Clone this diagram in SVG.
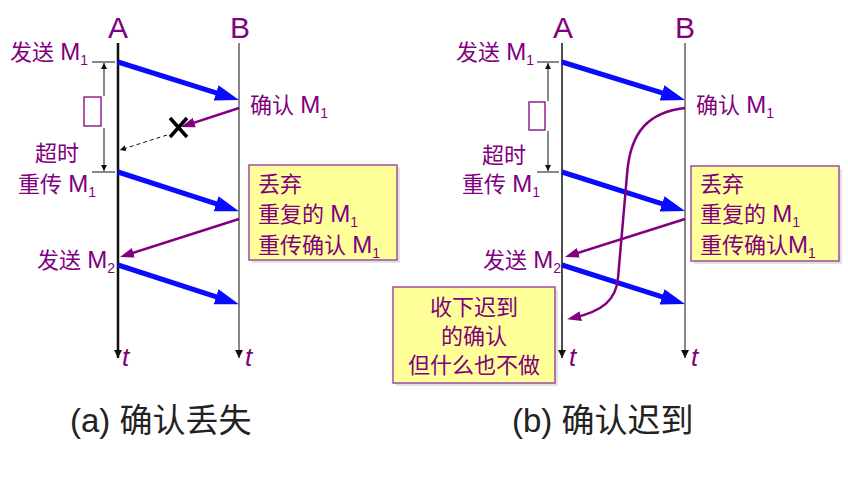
<svg xmlns="http://www.w3.org/2000/svg" width="848" height="486" viewBox="0 0 848 486">
<defs>
<style>
.lbl{font-family:"Liberation Sans","Noto Sans CJK SC",sans-serif;font-size:22px;fill:#800080}
.m{font-size:24px}
.s{font-size:14px}
.big{font-family:"Liberation Sans","Noto Sans CJK SC",sans-serif;font-size:30px;fill:#800080;text-anchor:middle}
.t{font-family:"Liberation Sans",sans-serif;font-size:26px;font-style:italic;fill:#800080}
.cap{font-family:"Liberation Sans","Noto Sans CJK SC",sans-serif;font-size:33px;fill:#222}
.blue{stroke:#0a0aff;stroke-width:5;fill:none;marker-end:url(#hb)}
.pur{stroke:#800080;stroke-width:2.5;fill:none;marker-end:url(#hp)}
.tl{stroke:#111;fill:none;marker-end:url(#ht)}
.thin{stroke:#111;stroke-width:1;fill:none}
.box{fill:#ffff99;stroke:#9b4f9b;stroke-width:1.5}
.shadow{fill:#c8c8c8;opacity:0.5}
.tofu{fill:none;stroke:#800080;stroke-width:1.3}
</style>
<marker id="hb" viewBox="0 0 24 16" refX="6" refY="8" markerWidth="24" markerHeight="16" markerUnits="userSpaceOnUse" orient="auto"><path d="M0,0 L24,8 L0,16 Z" fill="#0a0aff"/></marker>
<marker id="hp" viewBox="0 0 14 10" refX="8" refY="5" markerWidth="14" markerHeight="10" markerUnits="userSpaceOnUse" orient="auto"><path d="M0,0 L14,5 L0,10 Z" fill="#800080"/></marker>
<marker id="ht" viewBox="0 0 8 8" refX="8" refY="4" markerWidth="8" markerHeight="8" markerUnits="userSpaceOnUse" orient="auto"><path d="M0,0 L8,4 L0,8 Z" fill="#111"/></marker>
<marker id="hs" viewBox="0 0 6 6" refX="6" refY="3" markerWidth="6" markerHeight="6" markerUnits="userSpaceOnUse" orient="auto"><path d="M0,0 L6,3 L0,6 Z" fill="#111"/></marker>
</defs>
<rect width="848" height="486" fill="#fff"/>

<!-- Panel (a) -->
<g id="a-timelineA"><text class="big" x="118" y="38">A</text><path class="tl" d="M118,43 V358" stroke-width="2.5"/><text class="t" x="122" y="366">t</text></g>
<g id="a-timelineB"><text class="big" x="240" y="38">B</text><path class="tl" d="M239,43 V358" stroke-width="1"/><text class="t" x="245" y="366">t</text></g>
<g id="a-send1"><text class="lbl" x="10" y="60">发送 <tspan class="m">M</tspan><tspan class="s" dy="5">1</tspan></text></g>
<g id="a-ack1"><text class="lbl" x="250" y="113">确认 <tspan class="m">M</tspan><tspan class="s" dy="5">1</tspan></text></g>
<g id="a-timeout"><text class="lbl" x="35" y="161">超时</text></g>
<g id="a-resend"><text class="lbl" x="18" y="192">重传 <tspan class="m">M</tspan><tspan class="s" dy="5">1</tspan></text></g>
<g id="a-send2"><text class="lbl" x="37" y="268">发送 <tspan class="m">M</tspan><tspan class="s" dy="5">2</tspan></text></g>
<g id="a-timer">
<path class="thin" d="M92,62 H115 M92,172 H115"/>
<path class="thin" d="M104,96 V63" marker-end="url(#hs)"/>
<path class="thin" d="M104,128 V171" marker-end="url(#hs)"/>
<rect class="tofu" x="84" y="97" width="17" height="29"/>
</g>
<g id="a-box">
<rect class="shadow" x="252" y="168" width="148" height="95"/>
<rect class="box" x="249" y="165" width="148" height="95"/>
<text class="lbl" x="258" y="192">丢弃</text>
<text class="lbl" x="258" y="222">重复的 <tspan class="m">M</tspan><tspan class="s" dy="5">1</tspan></text>
<text class="lbl" x="258" y="253">重传确认 <tspan class="m">M</tspan><tspan class="s" dy="5">1</tspan></text>
</g>
<g id="a-lost">
<path d="M170,118 L187,137 M187,118 L170,137" stroke="#000" stroke-width="3.5" fill="none"/>
</g>

<!-- Panel (b) -->
<g id="b-timelineA"><text class="big" x="563" y="38">A</text><path class="tl" d="M562,43 V358" stroke-width="1.5"/><text class="t" x="569" y="366">t</text></g>
<g id="b-timelineB"><text class="big" x="685" y="38">B</text><path class="tl" d="M685,43 V358" stroke-width="1"/><text class="t" x="691" y="366">t</text></g>
<g id="b-send1"><text class="lbl" x="456" y="60">发送 <tspan class="m">M</tspan><tspan class="s" dy="5">1</tspan></text></g>
<g id="b-ack1"><text class="lbl" x="696" y="113">确认 <tspan class="m">M</tspan><tspan class="s" dy="5">1</tspan></text></g>
<g id="b-timeout"><text class="lbl" x="482" y="163">超时</text></g>
<g id="b-resend"><text class="lbl" x="462" y="192">重传 <tspan class="m">M</tspan><tspan class="s" dy="5">1</tspan></text></g>
<g id="b-send2"><text class="lbl" x="483" y="268">发送 <tspan class="m">M</tspan><tspan class="s" dy="5">2</tspan></text></g>
<g id="b-timer">
<path class="thin" d="M537,62 H559 M537,172 H559"/>
<path class="thin" d="M548,101 V63" marker-end="url(#hs)"/>
<path class="thin" d="M548,131 V171" marker-end="url(#hs)"/>
<rect class="tofu" x="529" y="102" width="16" height="28"/>
</g>
<g id="b-box">
<rect class="shadow" x="694" y="169" width="148" height="95"/>
<rect class="box" x="691" y="166" width="148" height="95"/>
<text class="lbl" x="700" y="192">丢弃</text>
<text class="lbl" x="700" y="222">重复的 <tspan class="m">M</tspan><tspan class="s" dy="5">1</tspan></text>
<text class="lbl" x="700" y="253">重传确认<tspan class="m">M</tspan><tspan class="s" dy="5">1</tspan></text>
</g>
<g id="b-note">
<rect class="shadow" x="396" y="290" width="162" height="96"/>
<rect class="box" x="393" y="287" width="162" height="96"/>
<text class="lbl" x="474" y="315" text-anchor="middle" font-size="23">收下迟到</text>
<text class="lbl" x="474" y="344" text-anchor="middle" font-size="23">的确认</text>
<text class="lbl" x="474" y="373" text-anchor="middle" font-size="23">但什么也不做</text>
</g>

<!-- Connectors -->
<g id="connectors">
<path class="blue" d="M118,62 L221.8,94.6"/>
<path class="blue" d="M118,172 L221.8,205.6"/>
<path class="blue" d="M118,265 L221.8,298.6"/>
<path class="pur" d="M239,108 L186.7,125.1"/>
<path d="M167,135 L120,150" stroke="#111" stroke-width="1" stroke-dasharray="4,3" fill="none" marker-end="url(#hs)"/>
<path class="pur" d="M239,219 L125.7,255.2"/>

<path class="blue" d="M562,62 L667.8,94.6"/>
<path class="blue" d="M562,172 L667.8,205.6"/>
<path class="blue" d="M562,265 L667.8,298.6"/>
<path class="pur" d="M685,219 L570.7,255.2"/>
<path class="pur" d="M685,108 C650,112 630,130 627,175 L618,278 C616,300 603,311 573,318"/>
</g>

<g id="captions">
<text class="cap" x="70" y="432">(a) 确认丢失</text>
<text class="cap" x="512" y="432">(b) 确认迟到</text>
</g>
</svg>
